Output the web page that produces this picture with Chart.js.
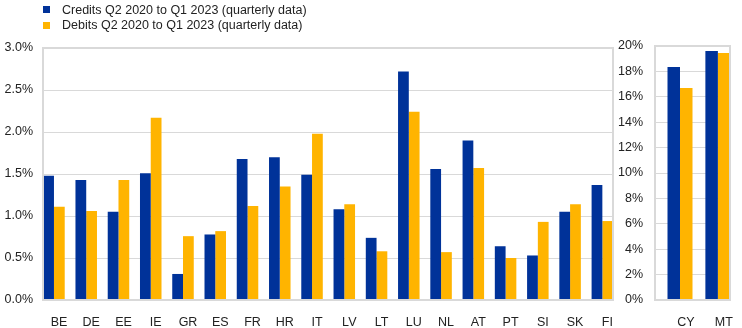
<!DOCTYPE html>
<html>
<head>
<meta charset="utf-8">
<script src="https://cdn.jsdelivr.net/npm/chart.js@4.4.1/dist/chart.umd.min.js"></script>
<style>
  body { margin: 0; background: #fff; font-family: 'Liberation Sans', Arial, sans-serif; }
  #wrap { position: relative; width: 742px; height: 328px; }
  #main { position: absolute; left: 0; top: 0; }
  #side { position: absolute; left: 615px; top: 0; }
  #legend { position: absolute; left: 43px; top: 2px; font-size: 12.5px; color: #222; }
  .item { display: flex; align-items: center; height: 15.5px; }
  .swatch { width: 7px; height: 7px; margin-right: 12px; }
</style>
</head>
<body>
<div id="wrap">
  <canvas id="main" width="615" height="328"></canvas>
  <canvas id="side" width="127" height="328"></canvas>
  <div id="legend"></div>
</div>
<script>
// euro area countries, % share
const countries = ['BE', 'DE', 'EE', 'IE', 'GR', 'ES', 'FR', 'HR', 'IT', 'LV', 'LT', 'LU', 'NL', 'AT', 'PT', 'SI', 'SK', 'FI'];
const credits = [1.48, 1.43, 1.05, 1.51, 0.31, 0.78, 1.68, 1.70, 1.49, 1.08, 0.74, 2.72, 1.56, 1.90, 0.64, 0.53, 1.05, 1.37];
const debits = [1.11, 1.06, 1.43, 2.17, 0.76, 0.82, 1.12, 1.35, 1.98, 1.14, 0.58, 2.24, 0.57, 1.57, 0.50, 0.93, 1.14, 0.94];

// the two outliers get their own panel with a wider scale
const bigCountries = ['CY', 'MT'];
const bigCredits = [18.35, 19.6];
const bigDebits = [16.7, 19.45];

const seriesNames = ['Credits Q2 2020 to Q1 2023 (quarterly data)', 'Debits Q2 2020 to Q1 2023 (quarterly data)'];
const seriesColors = ['#003299', '#ffb400'];

const GRID = '#d9d9d9';
const TEXT = '#222';
Chart.defaults.font.family = "'Liberation Sans', Arial, sans-serif";
Chart.defaults.font.size = 12.5;
Chart.defaults.color = TEXT;

// grey frame round the plot area
const plotBorder = {
  id: 'plotBorder',
  afterDraw(chart) {
    const { ctx, chartArea } = chart;
    ctx.save();
    ctx.strokeStyle = GRID;
    ctx.lineWidth = 2;
    ctx.strokeRect(chartArea.left, chartArea.top, chartArea.right - chartArea.left, chartArea.bottom - chartArea.top);
    ctx.restore();
  },
};

function toPoints(values) {
  return values.map((v, i) => ({ x: i, y: v }));
}

function makePanel(canvasId, labels, cr, db, opts) {
  const config = {
    type: 'bar',
    data: {
      datasets: [
        { label: seriesNames[0], data: toPoints(cr), backgroundColor: seriesColors[0] },
        { label: seriesNames[1], data: toPoints(db), backgroundColor: seriesColors[1] },
      ],
    },
    options: {
      responsive: false,
      animation: false,
      categoryPercentage: opts.groupShare,
      barPercentage: 1,
      layout: { padding: opts.padding },
      plugins: { legend: { display: false }, tooltip: { enabled: false } },
      scales: {
        x: {
          type: 'linear',
          offset: false,
          min: opts.xMin,
          max: opts.xMax,
          grid: { display: false },
          border: { display: false },
          afterBuildTicks: (scale) => {
            scale.ticks = labels.map((_, i) => ({ value: i }));
          },
          afterFit: (scale) => {
            scale.height = 28;
          },
          ticks: {
            autoSkip: false,
            maxRotation: 0,
            padding: 7,
            labelOffset: opts.labelOffset,
            callback: (v) => labels[v],
          },
        },
        y: {
          min: 0,
          max: opts.yMax,
          grid: { color: GRID, drawTicks: false },
          border: { display: false },
          afterFit: (scale) => {
            scale.width = opts.axisWidth;
          },
          ticks: {
            stepSize: opts.yStep,
            padding: opts.tickPad,
            callback: opts.yFormat,
          },
        },
      },
    },
    plugins: [plotBorder],
  };
  return new Chart(document.getElementById(canvasId), config);
}

makePanel('main', countries, credits, debits, {
  xMin: -0.34,
  xMax: 17.33,
  groupShare: 0.667,
  labelOffset: 5,
  yMax: 3,
  yStep: 0.5,
  axisWidth: 43,
  tickPad: 10,
  padding: { top: 48, right: 2, bottom: 0, left: 0 },
  yFormat: (v) => v.toFixed(1) + '%',
});

makePanel('side', bigCountries, bigCredits, bigDebits, {
  xMin: -0.66,
  xMax: 1.32,
  groupShare: 0.66,
  labelOffset: 6,
  yMax: 20,
  yStep: 2,
  axisWidth: 40,
  tickPad: 12,
  padding: { top: 46, right: 12, bottom: 0, left: 0 },
  yFormat: (v) => v + '%',
});

// legend stacked in two rows above the main panel
const legend = document.getElementById('legend');
seriesNames.forEach((name, i) => {
  const item = document.createElement('div');
  item.className = 'item';
  item.innerHTML = `<span class="swatch" style="background:${seriesColors[i]}"></span><span>${name}</span>`;
  legend.appendChild(item);
});
</script>
</body>
</html>
